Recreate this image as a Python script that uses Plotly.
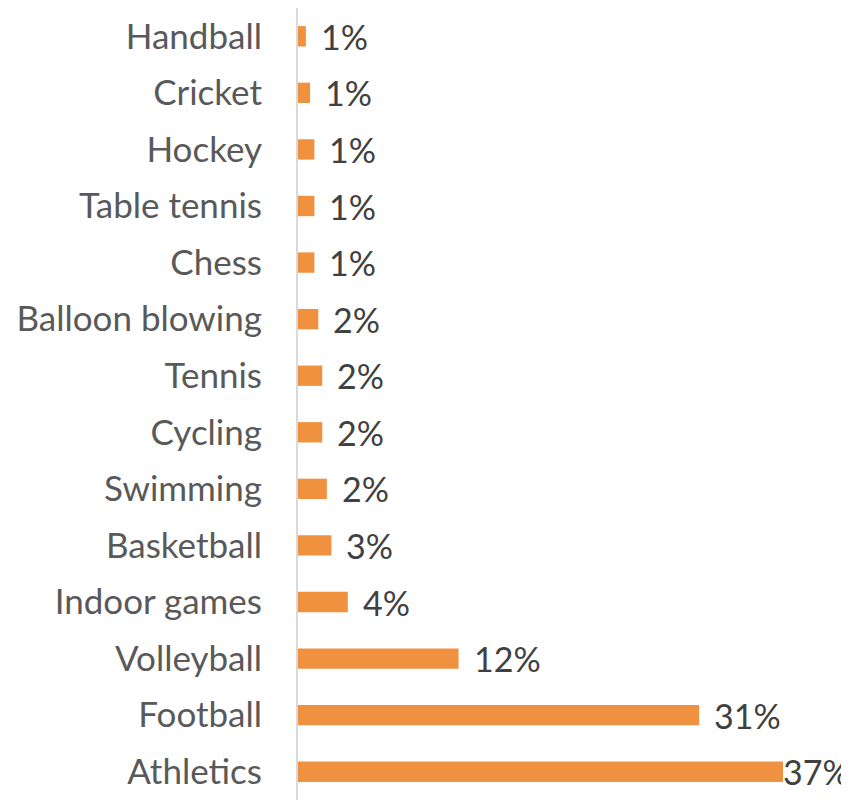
import plotly.graph_objects as go

categories = ["Athletics", "Football", "Volleyball", "Indoor games", "Basketball",
              "Swimming", "Cycling", "Tennis", "Balloon blowing", "Chess",
              "Table tennis", "Hockey", "Cricket", "Handball"]
values = [37.0, 30.6, 12.25, 3.8, 2.55, 2.2, 1.85, 1.85, 1.55, 1.25, 1.25, 1.25, 0.92, 0.6]
labels = ["37%", "31%", "12%", "4%", "3%", "2%", "2%", "2%", "2%", "1%", "1%", "1%", "1%", "1%"]

FONT = "Lato"

fig = go.Figure()
fig.add_trace(go.Bar(
    x=values, y=categories, orientation="h",
    marker=dict(color="#F0913F", line=dict(width=0)),
    textposition="none", hoverinfo="skip",
))

vmax = max(values)
for v, c, t in zip(values, categories, labels):
    fig.add_annotation(x=v, y=c, text=t, showarrow=False, xanchor="left",
                       yanchor="middle", xshift=(13 if v < vmax else -2),
                       font=dict(family=FONT, size=34, color="#404040"))

fig.update_layout(
    width=841, height=792,
    margin=dict(l=290, r=66, t=0, b=0),
    paper_bgcolor="white", plot_bgcolor="white",
    bargap=0.64, showlegend=False,
    xaxis=dict(range=[0, 37], visible=False, fixedrange=True),
    yaxis=dict(categoryorder="array", categoryarray=categories,
               showline=True, linecolor="#D9D9D9", linewidth=2,
               showgrid=False, zeroline=False, ticks="", ticklen=0,
               ticklabelstandoff=27,
               tickfont=dict(family=FONT, size=35, color="#595959"),
               automargin=False),
)
fig.write_html("out.html")
